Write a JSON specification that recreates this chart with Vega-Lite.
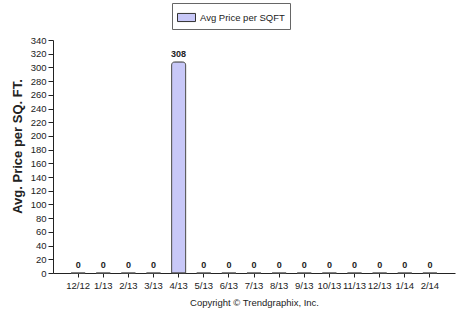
{
  "$schema": "https://vega.github.io/schema/vega-lite/v6.json",
  "width": 402,
  "height": 233,
  "autosize": {"type": "none"},
  "padding": {"left": 53, "top": 40, "right": 10, "bottom": 37},
  "background": "white",
  "config": {
    "view": {"stroke": null},
    "font": "Liberation Sans",
    "axis": {"labelFont": "Liberation Sans", "titleFont": "Liberation Sans", "domainColor": "#222", "tickColor": "#222", "labelColor": "#222", "grid": false}
  },
  "data": {
    "values": [
      {"month": "12/12", "price": 0, "series": "Avg Price per SQFT"},
      {"month": "1/13", "price": 0, "series": "Avg Price per SQFT"},
      {"month": "2/13", "price": 0, "series": "Avg Price per SQFT"},
      {"month": "3/13", "price": 0, "series": "Avg Price per SQFT"},
      {"month": "4/13", "price": 308, "series": "Avg Price per SQFT"},
      {"month": "5/13", "price": 0, "series": "Avg Price per SQFT"},
      {"month": "6/13", "price": 0, "series": "Avg Price per SQFT"},
      {"month": "7/13", "price": 0, "series": "Avg Price per SQFT"},
      {"month": "8/13", "price": 0, "series": "Avg Price per SQFT"},
      {"month": "9/13", "price": 0, "series": "Avg Price per SQFT"},
      {"month": "10/13", "price": 0, "series": "Avg Price per SQFT"},
      {"month": "11/13", "price": 0, "series": "Avg Price per SQFT"},
      {"month": "12/13", "price": 0, "series": "Avg Price per SQFT"},
      {"month": "1/14", "price": 0, "series": "Avg Price per SQFT"},
      {"month": "2/14", "price": 0, "series": "Avg Price per SQFT"}
    ]
  },
  "encoding": {
    "x": {
      "field": "month", "type": "ordinal", "sort": null,
      "scale": {"paddingInner": 0.44, "paddingOuter": 0.72},
      "axis": {
        "title": "Copyright \u00a9 Trendgraphix, Inc.",
        "titleFontSize": 9.5, "titleFontWeight": "normal", "titlePadding": 8, "titleColor": "#222",
        "labelAngle": 0, "labelFontSize": 9.5, "tickSize": 4, "labelPadding": 3, "bandPosition": 0.5
      }
    },
    "y": {
      "field": "price", "type": "quantitative",
      "scale": {"domain": [0, 340], "nice": false},
      "axis": {
        "title": "Avg. Price per SQ. FT.",
        "titleFontSize": 13, "titleFontWeight": "bold", "titleColor": "#222", "titlePadding": 6, "titleY": 106,
        "values": [0,20,40,60,80,100,120,140,160,180,200,220,240,260,280,300,320,340],
        "labelFontSize": 9.5, "tickSize": 5, "labelPadding": 2
      }
    }
  },
  "layer": [
    {
      "mark": {"type": "bar", "stroke": "#555", "strokeWidth": 1, "cornerRadiusTopLeft": 3, "cornerRadiusTopRight": 3},
      "encoding": {
        "color": {
          "field": "series", "type": "nominal",
          "scale": {"range": ["#c8c8f8"]},
          "legend": {
            "title": null, "orient": "none", "legendX": 119, "legendY": -37,
            "direction": "horizontal",
            "strokeColor": "#666", "fillColor": "white", "padding": 5,
            "labelFontSize": 9.5, "labelColor": "#222", "labelFont": "Liberation Sans",
            "symbolType": "M-1,-0.45H1V0.45H-1Z", "symbolSize": 324,
            "symbolStrokeColor": "#333", "symbolStrokeWidth": 1
          }
        }
      }
    },
    {
      "mark": {"type": "text", "dy": -8, "fontSize": 9, "fontWeight": "bold", "color": "#222"},
      "encoding": {"text": {"field": "price", "type": "quantitative"}}
    }
  ]
}
